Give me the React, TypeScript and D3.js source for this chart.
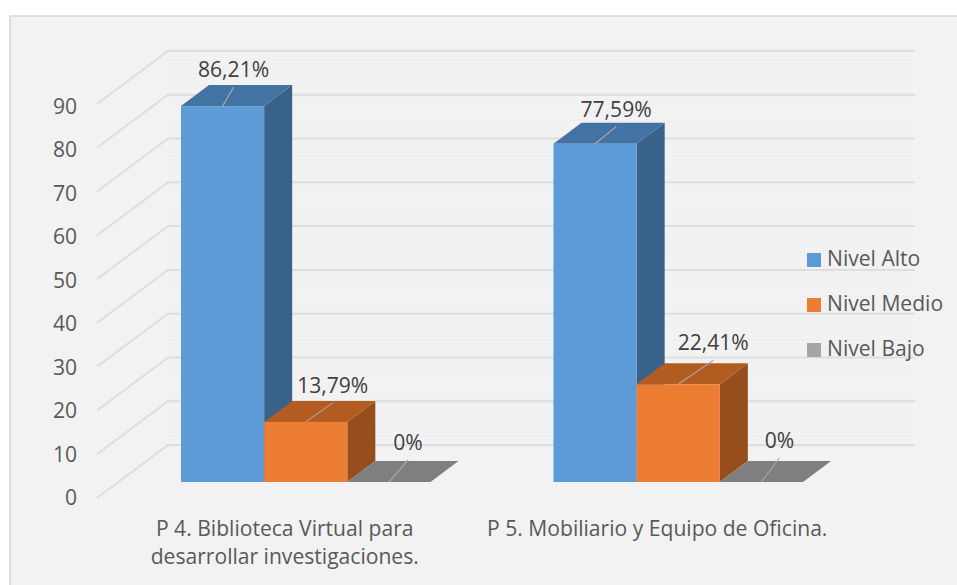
import React from "react";
import * as d3 from "d3";

const categories = ["P4", "P5"];
const categoryLines = [
  ["P 4. Biblioteca Virtual para", "desarrollar investigaciones."],
  ["P 5. Mobiliario y Equipo de Oficina."],
];
const seriesNames = ["Nivel Alto", "Nivel Medio", "Nivel Bajo"];
const valuesAlto = [86.21, 77.59];
const valuesMedio = [13.79, 22.41];
const valuesBajo = [0, 0];
const valueLabelsAlto = ["86,21%", "77,59%"];
const valueLabelsMedio = ["13,79%", "22,41%"];
const valueLabelsBajo = ["0%", "0%"];
const yTicks = [0, 10, 20, 30, 40, 50, 60, 70, 80, 90];

const frontColors = ["#5b9bd5", "#ed7d31", "#7f7f7f"];
const topColors = ["#4273a3", "#b25c20", "#7f7f7f"];
const sideColors = ["#376289", "#964f1c", "#7f7f7f"];
const legendColors = ["#5b9bd5", "#ed7d31", "#a5a5a5"];

// leader line end offset from the top-front centre of each bar [series][category]
const leaderOffsets = [
  [[11, -19], [21, -17]],
  [[27, -19], [35, -24]],
  [[19, -22], [18, -24]],
];
const font = "'Open Sans', sans-serif";
const fontSize = 21.1;

const W = 957, H = 585;
const wallDX = 71, wallDY = 53;
const wallRight = 915;
const wallLeft = 168;
const yWall = d3.scaleLinear().domain([0, 90]).range([445, 51]);
const yTickLabel = d3.scaleLinear().domain([0, 90]).range([505, 114]);
const minorTicks = d3.range(0, 90, 2).filter((d) => d % 10 !== 0);
const baseY = 482;
const yBar = d3.scaleLinear().domain([0, 100]).range([baseY, baseY - 436]);
const x0 = d3.scaleBand<string>().domain(categories).range([119.5, 864.5]);
const x1 = d3.scaleBand<string>().domain(seriesNames).range([61.5, 311]);
const depthX = 28, depthY = 21;

const seriesValues = [valuesAlto, valuesMedio, valuesBajo];
const seriesLabels = [valueLabelsAlto, valueLabelsMedio, valueLabelsBajo];
const pts = (p: number[][]) => p.map((q) => q.join(",")).join(" ");

export default function App() {
  return (
    <svg width={W} height={H} style={{ position: "absolute", left: 0, top: 0, background: "#fff" }} fontFamily={font}>
      <defs>
        <filter id="soft" x="-5%" y="-5%" width="110%" height="110%">
          <feGaussianBlur stdDeviation="0.45" />
        </filter>
      </defs>
      <rect x={10} y={16} width={W} height={H} fill="#f2f2f2" stroke="#dedede" strokeWidth={2} />
      <g filter="url(#soft)">
        {minorTicks.map((t) => (
          <line key={t} x1={wallLeft} x2={wallRight} y1={yWall(t)} y2={yWall(t)} stroke="#efefef" strokeWidth={1.5} />
        ))}
        {yTicks.map((t) => (
          <polyline key={t} fill="none" stroke="#dedede" strokeWidth={2}
            points={pts([[wallLeft - wallDX, yWall(t) + wallDY], [wallLeft, yWall(t)], [wallRight, yWall(t)]])} />
        ))}
        {categories.map((c, ci) =>
          seriesNames.map((s, si) => {
            const x = x0(c)! + x1(s)!;
            const w = x1.bandwidth();
            const y = yBar(seriesValues[si][ci]);
            return (
              <g key={c + s}>
                <polygon fill={sideColors[si]} points={pts([[x + w, y], [x + w + depthX, y - depthY], [x + w + depthX, baseY - depthY], [x + w, baseY]])} />
                <polygon fill={topColors[si]} points={pts([[x, y], [x + depthX, y - depthY], [x + w + depthX, y - depthY], [x + w, y]])} />
                <rect x={x} y={y} width={w} height={baseY - y} fill={frontColors[si]} />
              </g>
            );
          })
        )}
      </g>
      {yTicks.map((t) => (
        <text key={t} x={77} y={yTickLabel(t)} textAnchor="end" fontSize={fontSize} fill="#595959">{t}</text>
      ))}
      {categories.map((c, ci) =>
        seriesNames.map((s, si) => {
          const cx = x0(c)! + x1(s)! + x1.bandwidth() / 2;
          const y = yBar(seriesValues[si][ci]);
          const [dx, dy] = leaderOffsets[si][ci];
          return (
            <g key={c + s}>
              <line x1={cx} y1={y} x2={cx + dx} y2={y + dy} stroke="#a6a6a6" strokeWidth={1.2} />
              <text x={cx + dx} y={y + dy - 10} textAnchor="middle" fontSize={fontSize} fill="#404040">{seriesLabels[si][ci]}</text>
            </g>
          );
        })
      )}
      {categories.map((c, ci) =>
        categoryLines[ci].map((ln, li) => (
          <text key={ln} x={x0(c)! + x0.bandwidth() / 2 - 21} y={536 + li * 28} textAnchor="middle" fontSize={fontSize} fill="#595959">{ln}</text>
        ))
      )}
      {seriesNames.map((s, i) => (
        <g key={s} transform={`translate(807,${253 + i * 45})`}>
          <rect width={14} height={14} fill={legendColors[i]} />
          <text x={20} y={13} fontSize={fontSize} fill="#595959">{s}</text>
        </g>
      ))}
    </svg>
  );
}
